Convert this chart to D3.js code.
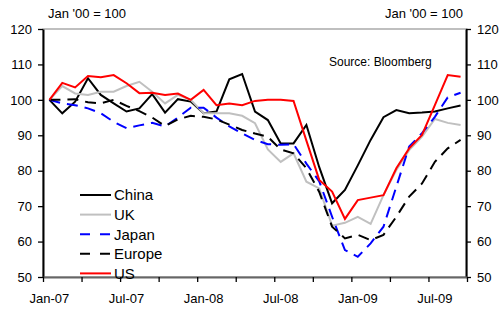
<!DOCTYPE html>
<html>
<head>
<meta charset="utf-8">
<script src="https://cdn.jsdelivr.net/npm/d3@7"></script>
<style>
  body { margin: 0; background: #fff; }
  text { font-family: "Liberation Sans", Arial, sans-serif; }
</style>
</head>
<body>
<div id="canvas"></div>
<script>
"use strict"

// monthly categories, Jan-07 .. Sep-09
let months = ["Jan-07", "Feb-07", "Mar-07", "Apr-07", "May-07", "Jun-07", "Jul-07", "Aug-07", "Sep-07", "Oct-07", "Nov-07", "Dec-07",
    "Jan-08", "Feb-08", "Mar-08", "Apr-08", "May-08", "Jun-08", "Jul-08", "Aug-08", "Sep-08", "Oct-08", "Nov-08", "Dec-08",
    "Jan-09", "Feb-09", "Mar-09", "Apr-09", "May-09", "Jun-09", "Jul-09", "Aug-09", "Sep-09"];

let monthLabels = ["Jan-07", "Jul-07", "Jan-08", "Jul-08", "Jan-09", "Jul-09"];
let yTicks = [50, 60, 70, 80, 90, 100, 110, 120];

let china = [100, 96.2, 99.5, 106.1, 101.4, 99, 96.7, 97.6, 101.6, 96.4, 100.2, 99.5, 96.2, 96.7, 105.8, 107.3, 96.7, 94.3, 87.7, 87.7, 92.9, 81, 70.8, 74.6, 81.5, 88.7, 95.1, 97.1, 96.2, 96.4, 96.7, 97.6, 98.4];
let uk = [100, 103.9, 101.8, 101.4, 102.3, 102.3, 103.9, 105.1, 102.3, 99, 101.4, 100, 96.2, 96.2, 96.2, 95.5, 93.4, 86, 82.5, 84.9, 76.9, 75, 64.5, 65.3, 67, 65, 73.1, 80.2, 85.8, 89.6, 94.6, 93.5, 92.9];
let japan = [100, 99, 98.5, 97.6, 96.2, 93.8, 92, 92.8, 93.5, 92.5, 95, 97.8, 97.8, 95, 92.5, 90.5, 88.7, 87.5, 87.3, 87.5, 82, 77, 67, 57.6, 55.7, 59.5, 64.2, 75.5, 86.8, 90.6, 95.2, 100.7, 102];
let europe = [100, 100, 100.2, 99.3, 99, 100, 98.3, 96.8, 95, 92.6, 94.5, 95.5, 95.2, 94.5, 93, 91.5, 90.5, 89.6, 86, 84.9, 80.7, 74, 64.2, 60.9, 61.9, 60.4, 61.9, 67, 72.7, 76.4, 82.5, 86.3, 88.7];
let us = [100, 104.8, 103.5, 106.7, 106.4, 107, 104.7, 101.9, 102, 101.4, 101.8, 100, 102.8, 98.5, 99, 98.5, 99.7, 100, 100, 99.7, 88.5, 77.4, 74.1, 66.4, 71.7, 72.4, 73.1, 80.7, 86.3, 90.1, 98.5, 107, 106.5];

let seriesNames = ["China", "UK", "Japan", "Europe", "US"];
let seriesValues = [china, uk, japan, europe, us];

let styles = {
    China: { color: "#000000", dash: null },
    UK: { color: "#c0c0c0", dash: null },
    Japan: { color: "#0000ff", dash: "11,7" },
    Europe: { color: "#000000", dash: "11,7" },
    US: { color: "#ff0000", dash: null }
};

let width = 502, height = 314;
let plotLeft = 43, plotRight = 467, plotTop = 29, plotBottom = 277;

let drawing = d3.select("#canvas")
    .append("svg")
    .attr("width", width)
    .attr("height", height);

let x = d3.scaleBand().domain(months).range([plotLeft, plotRight]);
let y = d3.scaleLinear().domain([50, 120]).range([plotBottom, plotTop]);
let xIndex = d3.scaleLinear().domain([0, months.length]).range([plotLeft, plotRight]);

// plot area border
drawing.append("rect")
    .attr("x", plotLeft)
    .attr("y", plotTop)
    .attr("width", plotRight - plotLeft)
    .attr("height", plotBottom - plotTop)
    .attr("fill", "#fff")
    .attr("stroke", "#808080")
    .attr("stroke-width", 1);

// left axis
let leftAxis = drawing.append("g")
    .attr("transform", "translate(" + plotLeft + ",0)")
    .call(d3.axisLeft(y).tickValues(yTicks).tickSizeInner(5).tickSizeOuter(0).tickPadding(6));

// right axis
let rightAxis = drawing.append("g")
    .attr("transform", "translate(" + (plotRight - 1) + ",0)")
    .call(d3.axisRight(y).tickValues(yTicks).tickSizeInner(5).tickSizeOuter(0).tickPadding(6));

// bottom tick marks every quarter at category boundaries
let bottomTicks = drawing.append("g")
    .attr("transform", "translate(0," + plotBottom + ")")
    .call(d3.axisBottom(xIndex).tickValues(d3.range(0, months.length + 1, 3)).tickFormat("").tickSizeInner(5).tickSizeOuter(0));

// bottom labels at category centres
let bottomLabels = drawing.append("g")
    .attr("transform", "translate(0," + plotBottom + ")")
    .call(d3.axisBottom(x).tickValues(monthLabels).tickSize(0).tickPadding(17));
bottomLabels.select(".domain").remove();

drawing.selectAll(".tick text")
    .attr("font-size", 13)
    .attr("font-family", "Liberation Sans, Arial, sans-serif")
    .attr("fill", "#000");
drawing.selectAll(".tick line")
    .attr("stroke", "#000")
    .attr("stroke-width", 1.3);

leftAxis.select(".domain").attr("stroke", "#000").attr("stroke-width", 2);
rightAxis.select(".domain").attr("stroke", "#000").attr("stroke-width", 2);
bottomTicks.select(".domain").attr("stroke", "#666").attr("stroke-width", 2);

// series lines
let line = d3.line()
    .x((d, i) => x(months[i]) + x.bandwidth() / 2)
    .y(d => y(d));

seriesNames.forEach((name, k) => {
    drawing.append("path")
        .datum(seriesValues[k])
        .attr("d", line)
        .attr("fill", "none")
        .attr("stroke", styles[name].color)
        .attr("stroke-width", 2)
        .attr("stroke-dasharray", styles[name].dash);
});

// legend
let legend = drawing.append("g");
seriesNames.forEach((name, k) => {
    let ly = 195 + k * 19.6;
    legend.append("line")
        .attr("x1", 80)
        .attr("x2", 111)
        .attr("y1", ly)
        .attr("y2", ly)
        .attr("stroke", styles[name].color)
        .attr("stroke-width", 2)
        .attr("stroke-dasharray", styles[name].dash ? "10,10" : null);
    legend.append("text")
        .attr("x", 114)
        .attr("y", ly)
        .attr("dy", "0.36em")
        .attr("font-size", 15)
        .text(name);
});

// titles
drawing.append("text")
    .attr("x", 48)
    .attr("y", 18)
    .attr("font-size", 13)
    .text("Jan '00 = 100");

drawing.append("text")
    .attr("x", 463)
    .attr("y", 18)
    .attr("font-size", 13)
    .attr("text-anchor", "end")
    .text("Jan '00 = 100");

drawing.append("text")
    .attr("x", 329)
    .attr("y", 66)
    .attr("font-size", 12)
    .text("Source: Bloomberg");
</script>
</body>
</html>
